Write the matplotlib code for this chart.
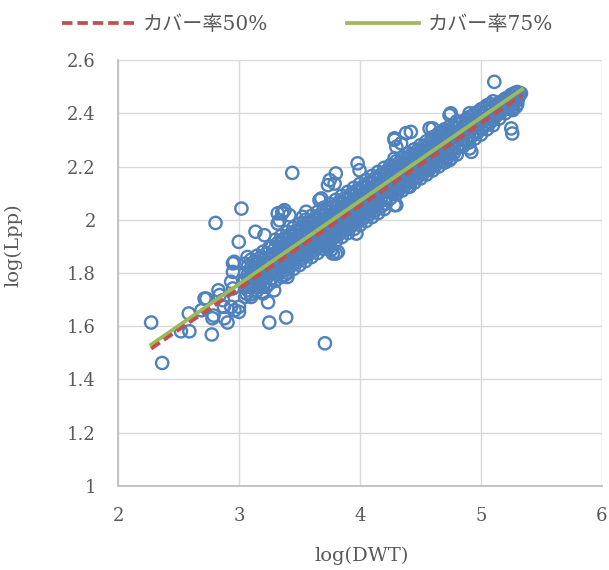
import matplotlib
matplotlib.use("Agg")
import matplotlib.pyplot as plt
from matplotlib.lines import Line2D

plt.rcParams['font.family'] = ['DejaVu Serif', 'Noto Sans CJK JP']

# ---- data: log(DWT) vs log(Lpp) ----
# dense band, one column of log(Lpp) values per log(DWT) value
band_x = [3.05, 3.10, 3.15, 3.20, 3.25, 3.30, 3.35, 3.40, 3.45, 3.50,
          3.55, 3.60, 3.65, 3.70, 3.75, 3.80, 3.85, 3.90, 3.95, 4.00,
          4.05, 4.10, 4.15, 4.20, 4.25, 4.30, 4.35, 4.40, 4.45, 4.50,
          4.55, 4.60, 4.65, 4.70, 4.75, 4.80, 4.85, 4.90, 4.95, 5.00,
          5.05, 5.10, 5.15, 5.20, 5.25, 5.30]
band_y = [
    [1.71, 1.745, 1.775, 1.80, 1.835],
    [1.72, 1.755, 1.79, 1.82, 1.85],
    [1.735, 1.77, 1.80, 1.835, 1.865],
    [1.75, 1.785, 1.815, 1.85, 1.88],
    [1.76, 1.80, 1.83, 1.86, 1.895],
    [1.77, 1.805, 1.835, 1.865, 1.895, 1.925],
    [1.785, 1.82, 1.85, 1.88, 1.91, 1.94],
    [1.80, 1.835, 1.865, 1.895, 1.925, 1.955],
    [1.815, 1.85, 1.88, 1.91, 1.94, 1.97],
    [1.83, 1.865, 1.895, 1.925, 1.955, 1.985],
    [1.845, 1.88, 1.91, 1.94, 1.97, 2.0],
    [1.86, 1.895, 1.925, 1.955, 1.985, 2.015],
    [1.875, 1.91, 1.94, 1.97, 2.0, 2.03],
    [1.89, 1.925, 1.955, 1.985, 2.015, 2.045],
    [1.905, 1.94, 1.97, 2.0, 2.03, 2.06],
    [1.92, 1.955, 1.985, 2.015, 2.045, 2.075],
    [1.935, 1.97, 2.0, 2.03, 2.06, 2.09],
    [1.95, 1.985, 2.015, 2.045, 2.075, 2.105],
    [1.965, 2.0, 2.03, 2.06, 2.09, 2.12],
    [1.98, 2.015, 2.045, 2.075, 2.105, 2.135],
    [1.995, 2.03, 2.06, 2.09, 2.12, 2.15],
    [2.01, 2.045, 2.075, 2.105, 2.135, 2.165],
    [2.025, 2.06, 2.09, 2.12, 2.15, 2.18],
    [2.04, 2.075, 2.105, 2.135, 2.165, 2.195],
    [2.08, 2.105, 2.13, 2.155, 2.18, 2.205],
    [2.095, 2.12, 2.145, 2.17, 2.195, 2.22],
    [2.11, 2.135, 2.16, 2.185, 2.21, 2.235],
    [2.125, 2.15, 2.175, 2.20, 2.225, 2.25],
    [2.14, 2.165, 2.19, 2.215, 2.24, 2.265],
    [2.155, 2.18, 2.205, 2.23, 2.255, 2.28],
    [2.17, 2.195, 2.22, 2.245, 2.27, 2.295],
    [2.185, 2.21, 2.235, 2.26, 2.285, 2.31],
    [2.20, 2.225, 2.25, 2.275, 2.30, 2.325],
    [2.215, 2.24, 2.265, 2.29, 2.315, 2.34],
    [2.23, 2.255, 2.28, 2.305, 2.33, 2.355],
    [2.245, 2.27, 2.295, 2.32, 2.345, 2.37],
    [2.275, 2.30, 2.325, 2.35, 2.37],
    [2.29, 2.315, 2.34, 2.365, 2.385],
    [2.305, 2.33, 2.355, 2.38, 2.40],
    [2.32, 2.345, 2.37, 2.395, 2.415],
    [2.34, 2.36, 2.385, 2.41, 2.43],
    [2.355, 2.375, 2.40, 2.425, 2.445],
    [2.38, 2.40, 2.42, 2.44],
    [2.40, 2.415, 2.435, 2.455],
    [2.415, 2.43, 2.45, 2.47],
    [2.435, 2.45, 2.465, 2.48],
]

# second, staggered set of columns inside the band
band2_x = [3.075, 3.125, 3.175, 3.225, 3.275, 3.325, 3.375, 3.425, 3.475, 3.525,
           3.575, 3.625, 3.675, 3.725, 3.775, 3.825, 3.875, 3.925, 3.975, 4.025,
           4.075, 4.125, 4.175, 4.225, 4.275, 4.325, 4.375, 4.425, 4.475, 4.525,
           4.575, 4.625, 4.675, 4.725, 4.775, 4.825, 4.875, 4.925, 4.975, 5.025,
           5.075, 5.125, 5.175, 5.225, 5.275]
band2_y = [
    [1.735, 1.768, 1.797, 1.827],
    [1.75, 1.783, 1.812, 1.842],
    [1.765, 1.798, 1.827, 1.857],
    [1.78, 1.813, 1.842, 1.872],
    [1.78, 1.81, 1.84, 1.87, 1.90],
    [1.795, 1.825, 1.855, 1.885, 1.915],
    [1.81, 1.84, 1.87, 1.90, 1.93],
    [1.825, 1.855, 1.885, 1.915, 1.945],
    [1.84, 1.87, 1.90, 1.93, 1.96],
    [1.855, 1.885, 1.915, 1.945, 1.975],
    [1.87, 1.90, 1.93, 1.96, 1.99],
    [1.885, 1.915, 1.945, 1.975, 2.005],
    [1.90, 1.93, 1.96, 1.99, 2.02],
    [1.915, 1.945, 1.975, 2.005, 2.035],
    [1.93, 1.96, 1.99, 2.02, 2.05],
    [1.945, 1.975, 2.005, 2.035, 2.065],
    [1.96, 1.99, 2.02, 2.05, 2.08],
    [1.975, 2.005, 2.035, 2.065, 2.095],
    [1.99, 2.02, 2.05, 2.08, 2.11],
    [2.005, 2.035, 2.065, 2.095, 2.125],
    [2.02, 2.05, 2.08, 2.11, 2.14],
    [2.035, 2.065, 2.095, 2.125, 2.155],
    [2.05, 2.08, 2.11, 2.14, 2.17],
    [2.085, 2.11, 2.135, 2.16, 2.185],
    [2.10, 2.125, 2.15, 2.175, 2.20],
    [2.115, 2.14, 2.165, 2.19, 2.215],
    [2.13, 2.155, 2.18, 2.205, 2.23],
    [2.145, 2.17, 2.195, 2.22, 2.245],
    [2.16, 2.185, 2.21, 2.235, 2.26],
    [2.175, 2.20, 2.225, 2.25, 2.275],
    [2.19, 2.215, 2.24, 2.265, 2.29],
    [2.205, 2.23, 2.255, 2.28, 2.305],
    [2.22, 2.245, 2.27, 2.295, 2.32],
    [2.235, 2.26, 2.285, 2.31, 2.335],
    [2.25, 2.275, 2.30, 2.325, 2.35],
    [2.285, 2.31, 2.335, 2.36],
    [2.30, 2.325, 2.35, 2.375],
    [2.315, 2.34, 2.365, 2.39],
    [2.33, 2.355, 2.38, 2.405],
    [2.35, 2.372, 2.395, 2.42],
    [2.365, 2.388, 2.41, 2.435],
    [2.39, 2.41, 2.43],
    [2.41, 2.425, 2.445],
    [2.42, 2.44, 2.46],
    [2.44, 2.455, 2.475],
]

# scattered vessels around the band
scatter_x = [2.274, 2.365, 2.52, 2.59, 2.585, 2.73, 2.69, 2.775, 2.78, 2.79,
             2.88, 2.905, 2.83, 2.84, 2.866, 2.875, 2.935, 2.963, 3.00, 3.00,
             2.95, 2.96, 2.95, 2.935, 2.95, 2.998, 3.07, 3.24, 3.25, 3.39,
             3.06, 3.10, 3.14, 3.197, 3.17, 3.045, 3.07, 3.11, 3.136, 3.21,
             3.32, 3.32, 3.44, 3.357, 3.376, 3.335, 3.02, 2.806, 2.715, 3.71,
             3.36, 3.417, 3.555, 3.527, 3.68, 3.665, 3.75, 3.80, 3.79, 3.735,
             3.98, 3.996, 4.285, 4.34, 4.38, 4.285, 3.817, 3.775, 3.75, 3.225,
             3.197, 3.29, 3.97, 3.376, 3.40, 3.76, 3.80, 4.30, 4.215, 5.11,
             5.25, 5.258, 4.74, 4.905, 4.42, 4.285, 4.30, 4.575, 4.67, 4.905,
             4.92, 4.74, 4.575, 4.395, 4.30, 5.263, 4.60, 4.75, 4.41, 4.285,
             5.29, 5.263, 5.32, 5.33, 5.28, 5.31, 5.22, 5.18]
scatter_y = [1.614, 1.462, 1.581, 1.581, 1.648, 1.704, 1.66, 1.569, 1.63, 1.64,
             1.63, 1.614, 1.735, 1.717, 1.698, 1.673, 1.673, 1.66, 1.654, 1.673,
             1.836, 1.842, 1.804, 1.767, 1.742, 1.917, 1.86, 1.69, 1.614, 1.633,
             1.723, 1.71, 1.729, 1.729, 1.748, 1.773, 1.754, 1.785, 1.955, 1.942,
             2.024, 1.986, 2.176, 2.024, 2.036, 1.998, 2.042, 1.988, 1.704, 1.536,
             2.03, 2.017, 2.03, 2.011, 2.08, 2.074, 2.149, 2.174, 2.136, 2.13,
             2.212, 2.186, 2.30, 2.287, 2.325, 2.055, 1.879, 1.873, 1.898, 1.748,
             1.723, 1.735, 1.948, 1.792, 1.785, 1.886, 1.873, 2.055, 2.061, 2.518,
             2.343, 2.324, 2.393, 2.40, 2.33, 2.306, 2.274, 2.343, 2.33, 2.268,
             2.255, 2.224, 2.199, 2.124, 2.099, 2.42, 2.343, 2.40, 2.124, 2.23,
             2.425, 2.412, 2.47, 2.475, 2.475, 2.46, 2.45, 2.43]

# coverage lines
line50_x = [2.274, 5.34]
line50_y = [1.516, 2.468]
line75_x = [2.274, 5.34]
line75_y = [1.531, 2.49]

xs = list(scatter_x)
ys = list(scatter_y)
for x, col in zip(band_x + band2_x, band_y + band2_y):
    xs += [x] * len(col)
    ys += col

blue = '#4F81BD'
red = '#C0504D'
green = '#9BBB59'
grey_txt = '#595959'

fig = plt.figure(figsize=(6.09, 5.70), dpi=100)
ax = fig.add_axes([0.1938, 0.1474, 0.7947, 0.7473])

ax.scatter(xs, ys, s=78, facecolors='none', edgecolors=blue, linewidths=1.7, zorder=3)
ax.plot(line50_x, line50_y, color=red, lw=2.7, dashes=[2.8, 1.3], zorder=5)
ax.plot(line75_x, line75_y, color=green, lw=2.7, zorder=4)

ax.set_xlim(2, 6)
ax.set_ylim(1, 2.6)
ax.set_xticks([2, 3, 4, 5, 6])
ax.set_yticks([1, 1.2, 1.4, 1.6, 1.8, 2, 2.2, 2.4, 2.6])
ax.set_yticklabels(['1', '1.2', '1.4', '1.6', '1.8', '2', '2.2', '2.4', '2.6'])
ax.grid(True, color='#D9D9D9', lw=1.0, zorder=0)
ax.set_axisbelow(True)
for side in ['top', 'right']:
    ax.spines[side].set_visible(False)
for side in ['left', 'bottom']:
    ax.spines[side].set_color('#BFBFBF')
    ax.spines[side].set_linewidth(1.3)
ax.tick_params(length=0, labelsize=13, labelcolor=grey_txt)
ax.tick_params(axis='y', pad=16)
ax.tick_params(axis='x', pad=15)

ax.set_xlabel('log(DWT)', fontsize=14, color=grey_txt)
ax.set_ylabel('log(Lpp)', fontsize=14, color=grey_txt)
ax.xaxis.set_label_coords(0.504, -0.143)
ax.yaxis.set_label_coords(-0.198, 0.566)

handles = [Line2D([], [], color=red, lw=2.7, dashes=[2.8, 1.3]),
           Line2D([], [], color=green, lw=2.7)]
fig.legend(handles, ['カバー率50%', 'カバー率75%'], loc='center',
           bbox_to_anchor=(0.505, 0.957), ncol=2, frameon=False,
           fontsize=14.5, handlelength=3.6, handletextpad=0.4,
           columnspacing=3.9, labelcolor=grey_txt)

fig.savefig('out.png', dpi=100)
